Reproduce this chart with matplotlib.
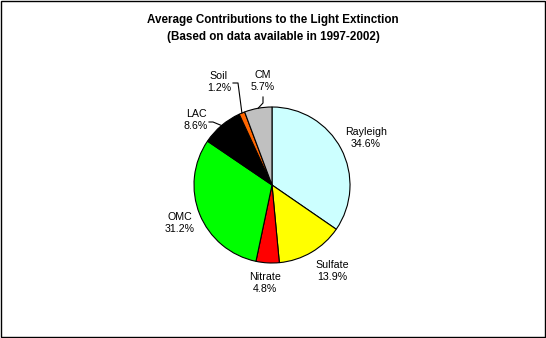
import matplotlib
matplotlib.use("Agg")
import matplotlib.pyplot as plt
import numpy as np

plt.rcParams['font.family'] = ['Liberation Sans', 'DejaVu Sans']

categories = ["Rayleigh", "Sulfate", "Nitrate", "OMC", "LAC", "Soil", "CM"]
values = [34.6, 13.9, 4.8, 31.2, 8.6, 1.2, 5.7]
colors = ["#ccffff", "#ffff00", "#ff0000", "#00ff00", "#000000", "#ff6600", "#c0c0c0"]
title_lines = ["Average Contributions to the Light Extinction",
               "(Based on data available in 1997-2002)"]

W, H = 546, 338
fig = plt.figure(figsize=(W / 100, H / 100), dpi=100)
ax = fig.add_axes([0, 0, 1, 1])
ax.set_xlim(0, W)
ax.set_ylim(0, H)
ax.set_aspect('equal')
ax.axis('off')

cx, cy, R = 272, H - 185, 78
wedges, _ = ax.pie(values, colors=colors, startangle=90, counterclock=False,
                   center=(cx, cy), radius=R,
                   wedgeprops=dict(edgecolor='black', linewidth=0.8))
ax.set_xlim(0, W)
ax.set_ylim(0, H)

# label positions (pixel coords from top-left)
label_pos = {
    "Rayleigh": (366, 138),
    "Sulfate": (332, 271),
    "Nitrate": (265, 283),
    "OMC": (180, 223),
    "LAC": (196, 120),
    "Soil": (219, 82),
    "CM": (263, 81),
}
for cat, val in zip(categories, values):
    x, y = label_pos[cat]
    ax.text(x, H - y, f"{cat}\n{val:.1f}%", ha='center', va='center',
            fontsize=7.7, linespacing=1.35)

# leader lines from wedge edge to labels
cum = np.cumsum([0] + values[:-1])
def edge_point(i):
    mid = cum[i] + values[i] / 2
    ang = np.deg2rad(90 - mid / 100 * 360)
    return cx + R * np.cos(ang), cy + R * np.sin(ang)

i_lac = categories.index("LAC")
ex, ey = edge_point(i_lac)
ax.plot([ex, 213, 209], [ey, H - 122, H - 122], color='black', lw=0.8)
i_soil = categories.index("Soil")
ex, ey = edge_point(i_soil)
ax.plot([ex, 238, 233], [ey, H - 83, H - 83], color='black', lw=0.8)
i_cm = categories.index("CM")
ex, ey = edge_point(i_cm)
ax.plot([ex, 263, 263], [ey, H - 103, H - 97], color='black', lw=0.8)

fig.text(0.5, 1 - 20 / H, title_lines[0], ha='center', va='center',
         fontsize=8.4, fontweight='bold')
fig.text(0.5, 1 - 37 / H, title_lines[1], ha='center', va='center',
         fontsize=8.4, fontweight='bold')

ax.add_patch(plt.Rectangle((0.5, 1.5), W - 2, H - 2, fill=False,
                           edgecolor='black', lw=1))

fig.savefig("out.png", dpi=100)
